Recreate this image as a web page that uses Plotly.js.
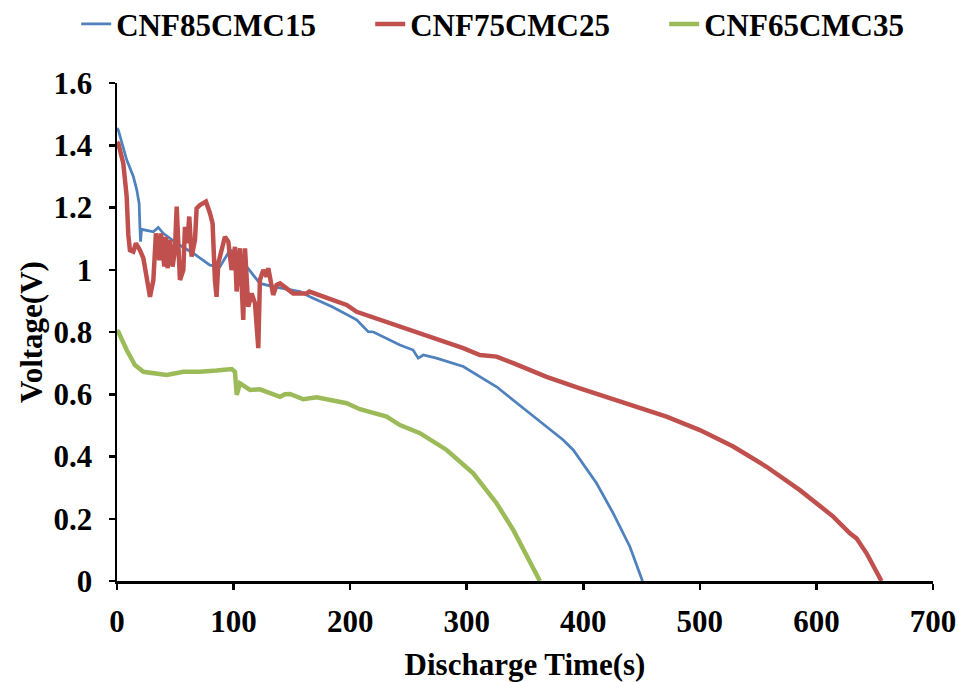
<!DOCTYPE html>
<html>
<head>
<meta charset="utf-8">
<script src="https://cdn.plot.ly/plotly-3.0.1.min.js"></script>
<style>
  html, body { margin: 0; padding: 0; background: #fff; }
  #chart { width: 958px; height: 682px; }
</style>
</head>
<body>
<div id="chart"></div>
<script>
// Discharge curves of three CNF/CMC electrode compositions
const seriesNames = ['CNF85CMC15', 'CNF75CMC25', 'CNF65CMC35'];
const seriesColors = ['#4F81BD', '#C0504D', '#9BBB59'];

// CNF85CMC15
const timeA = [0, 1, 8.3, 14, 17, 19, 19.7, 20.2, 21, 24, 31.2, 35.4, 39.7, 51.1, 65.4, 79.7, 88.3, 96.9,
  102.6, 111.2, 122.6, 134, 157, 165.5, 185, 205.6, 215.5, 220, 231.3, 242.7, 254, 258.4, 262.7, 274,
  297, 325.6, 354, 382.8, 391.4, 411.4, 425.6, 440, 450.8];
const voltA = [1.455, 1.45, 1.353, 1.3, 1.256, 1.213, 1.133, 1.09, 1.13, 1.128, 1.122, 1.136, 1.117, 1.085,
  1.053, 1.015, 1.01, 1.063, 1.053, 1.01, 0.956, 0.946, 0.93, 0.913, 0.88, 0.839, 0.801, 0.8, 0.78,
  0.758, 0.742, 0.716, 0.726, 0.716, 0.689, 0.624, 0.539, 0.453, 0.421, 0.314, 0.218, 0.11, 0];

// CNF75CMC25
const timeB = [0, 1.1, 5.4, 8.3, 9.7, 11.1, 14, 16.3, 19.7, 22.6, 28.3, 31.2, 33.4, 36.3, 37.7, 40.6, 42,
  43.4, 45.5, 47.7, 49.7, 51.2, 54, 56.9, 58.3, 60.3, 62, 64, 66.9, 68.3, 71.2, 76.3, 79.8, 82, 84, 85.4,
  86.9, 92.6, 95.5, 98.3, 101.2, 102.6, 105.5, 108.3, 109.8, 112.6, 115.5, 118.4, 121.2, 122.6, 125.5,
  128.4, 129.8, 132.7, 134, 136.9, 139.8, 151.2, 162.7, 165, 197, 205.6, 239.9, 268.4, 297, 311.3, 325.6,
  339.9, 368.5, 397.1, 414.2, 442.8, 471.4, 500, 528.6, 557.2, 585.8, 614.4, 628.7, 634.4, 643, 655.8];
const voltB = [1.41, 1.406, 1.342, 1.235, 1.112, 1.063, 1.058, 1.085, 1.063, 1.037, 0.913, 0.967, 1.117,
  1.031, 1.117, 1.01, 1.106, 1.005, 1.096, 1.01, 1.063, 1.203, 0.967, 0.999, 1.138, 1.085, 1.171, 1.042,
  1.096, 1.197, 1.208, 1.219, 1.181, 1.149, 0.967, 0.913, 1.021, 1.106, 1.09, 0.999, 1.074, 0.93, 1.069,
  0.839, 1.069, 0.881, 0.924, 0.892, 0.748, 0.967, 0.999, 0.978, 1.005, 0.946, 0.919, 0.951, 0.956,
  0.924, 0.924, 0.93, 0.887, 0.865, 0.822, 0.785, 0.748, 0.726, 0.721, 0.7, 0.656, 0.619, 0.598, 0.565,
  0.528, 0.485, 0.432, 0.367, 0.292, 0.207, 0.153, 0.137, 0.089, 0];

// CNF65CMC35
const timeC = [0, 1.1, 8.3, 15.4, 22.6, 42.6, 56.9, 71.2, 85.5, 98.4, 101.2, 102.7, 105.5, 114.1, 122.6,
  139.8, 144.1, 148.4, 159.8, 171.3, 197, 208.4, 231.3, 242.7, 259.9, 282.8, 305.6, 325.6, 339.9, 351.4,
  362.8];
const voltC = [0.802, 0.801, 0.742, 0.694, 0.672, 0.662, 0.672, 0.672, 0.676, 0.681, 0.672, 0.598, 0.635,
  0.614, 0.616, 0.592, 0.6, 0.601, 0.584, 0.59, 0.571, 0.552, 0.528, 0.501, 0.475, 0.421, 0.346, 0.25,
  0.164, 0.078, 0];

const xTicks = [0, 100, 200, 300, 400, 500, 600, 700];
const yTicks = [0, 0.2, 0.4, 0.6, 0.8, 1, 1.2, 1.4, 1.6];

const serif = '"Liberation Serif", "Times New Roman", Times, serif';
const lineWidths = [2.75, 4.5, 4.5];

const traces = [[timeA, voltA], [timeB, voltB], [timeC, voltC]].map(([x, y], i) => ({
  type: 'scatter',
  mode: 'lines',
  name: seriesNames[i],
  x: x,
  y: y,
  line: { color: seriesColors[i], width: lineWidths[i] },
  cliponaxis: false
}));

const textFont = { family: serif, size: 31, color: '#000', weight: 700 };

const axisCommon = {
  showgrid: false,
  zeroline: false,
  showline: true,
  linecolor: '#000',
  linewidth: 2.5,
  ticks: 'outside',
  ticklen: 6,
  tickwidth: 2.5,
  tickcolor: '#000',
  tickfont: textFont,
  fixedrange: true
};

const layout = {
  width: 958,
  height: 682,
  margin: { l: 117, r: 25, t: 83, b: 101, autoexpand: false },
  paper_bgcolor: '#fff',
  plot_bgcolor: '#fff',
  showlegend: true,
  legend: {
    orientation: 'h',
    x: -0.05,
    xanchor: 'left',
    y: 1.118,
    yanchor: 'middle',
    font: textFont,
    bgcolor: 'rgba(0,0,0,0)',
    itemwidth: 30,
    entrywidthmode: 'pixels',
    entrywidth: 249
  },
  xaxis: Object.assign({}, axisCommon, {
    range: [0, 700],
    tickvals: xTicks,
    ticktext: xTicks.map(String),
    ticklabelstandoff: 5,
    title: { text: 'Discharge Time(s)', font: textFont, standoff: 16 }
  }),
  yaxis: Object.assign({}, axisCommon, {
    range: [0, 1.6],
    tickvals: yTicks,
    ticktext: yTicks.map(String),
    ticklabelstandoff: 10,
    title: { text: 'Voltage(V)', font: textFont, standoff: 2 }
  })
};

Plotly.newPlot('chart', traces, layout, { displayModeBar: false, staticPlot: true });
</script>
</body>
</html>
